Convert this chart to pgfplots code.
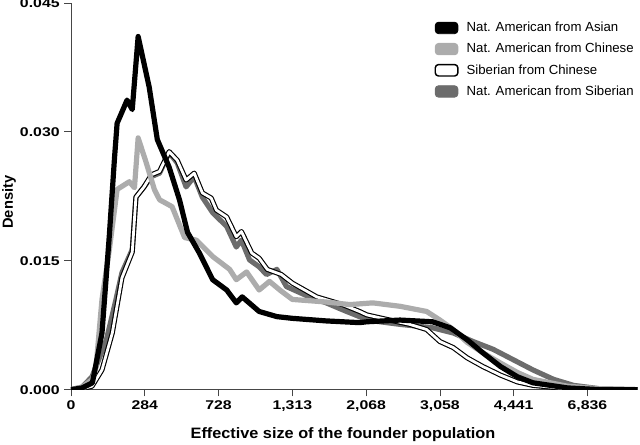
\documentclass[border=0pt]{standalone}
\usepackage{pgfplots}
\pgfplotsset{compat=1.18}
\usepackage{fontspec}
\setmainfont{Liberation Sans}
\newfontfamily\tickfont[FakeStretch=1.25]{Liberation Sans}
\newfontfamily\labfont[FakeStretch=1.08]{Liberation Sans}
\definecolor{lgray}{RGB}{172,172,172}
\definecolor{dgray}{RGB}{108,108,108}
\definecolor{axgray}{RGB}{70,70,70}
\begin{document}
\begin{tikzpicture}
\begin{axis}[
  scale only axis, width=425pt, height=290pt,
  xmin=0, xmax=7.68, ymin=0, ymax=0.045,
  axis x line*=bottom, axis y line*=left,
  axis line style={axgray, line width=0.6pt, -},
  tick style={axgray, line width=0.6pt},
  tick align=outside, major tick length=5pt,
  xtick={0,1,2,3,4,5,6,7},
  xticklabels={0,284,728,{1,313},{2,068},{3,058},{4,441},{6,836}},
  ytick={0,0.015,0.030,0.045},
  yticklabels={0.000,0.015,0.030,0.045},
  ticklabel style={font=\tickfont\bfseries\fontsize{9.5}{11}\selectfont},
  xlabel={Effective size of the founder population},
  ylabel={Density},
  every axis x label/.style={at={(axis description cs:0.48,0)}, yshift=-34pt, anchor=center, font=\labfont\bfseries\fontsize{11.3}{13}\selectfont},
  every axis y label/.style={at={(axis description cs:0,0.485)}, xshift=-46.5pt, rotate=90, anchor=center, font=\bfseries\fontsize{11}{13}\selectfont},
  legend style={at={(rel axis cs:0.641,0.958)}, anchor=north west, draw=none, fill=none,
    font=\fontsize{9.9}{11}\selectfont, inner sep=0pt, row sep=3.2pt,
    /tikz/every odd column/.style={column sep=4pt},
    /tikz/every even column/.style={column sep=0pt}},
  legend cell align=left,
  legend image code/.code={\draw[#1, rounded corners=2.5pt] (0pt,-4.3pt) rectangle (17pt,4.3pt);},
  line join=round,
]
% Nat. American from Siberian
\addplot[dgray, line width=3.9pt, forget plot] coordinates {
(0,0) (0.15,0.0003) (0.285,0.0015) (0.48,0.0058) (0.61,0.0105) (0.69,0.0136) (0.83,0.0163) (0.88,0.0224) (0.99,0.0236) (1.09,0.0248) (1.20,0.0252) (1.33,0.0276) (1.44,0.0264) (1.56,0.0236) (1.67,0.0248) (1.78,0.0224) (1.92,0.0206) (2.11,0.019) (2.24,0.0166) (2.31,0.0174) (2.42,0.0151) (2.55,0.0143) (2.65,0.0134) (2.79,0.014) (2.92,0.012) (3.23,0.0108) (3.46,0.0101) (3.68,0.0093) (3.91,0.0085) (4.01,0.0081) (4.46,0.0076) (4.90,0.0072) (5.18,0.0066) (5.45,0.0056) (5.72,0.0047) (5.99,0.0035) (6.26,0.0023) (6.54,0.0012) (6.81,0.0005) (7.17,0.0001) (7.68,0)
};
% Siberian from Chinese
\pgfplotstableread{
x y
0 0
0.15 0.0001
0.285 0.0004
0.42 0.0023
0.56 0.0066
0.69 0.013
0.83 0.016
0.88 0.0224
0.99 0.0236
1.09 0.025
1.20 0.0254
1.33 0.0277
1.44 0.0267
1.56 0.0244
1.67 0.0252
1.78 0.0229
1.90 0.0223
1.97 0.0209
2.11 0.0201
2.24 0.0178
2.31 0.0184
2.45 0.0159
2.55 0.0153
2.66 0.014
2.85 0.0134
3.00 0.0124
3.33 0.0108
3.68 0.0099
3.91 0.0091
4.01 0.0087
4.32 0.0081
4.59 0.0076
4.82 0.007
5.00 0.0056
5.18 0.0049
5.37 0.0037
5.58 0.0027
5.82 0.0017
6.05 0.0009
6.26 0.0005
6.73 0.0001
7.17 0
7.68 0
}\sibchi
\addplot[black, line width=3.8pt, forget plot] table {\sibchi};
\addplot[white, line width=2.1pt, forget plot] table {\sibchi};
% Nat. American from Chinese
\addplot[lgray, line width=3.9pt, forget plot] coordinates {
(0,0) (0.15,0.0003) (0.29,0.0012) (0.34,0.0027) (0.42,0.0105) (0.52,0.0163) (0.625,0.0233) (0.79,0.0242) (0.86,0.0235) (0.91,0.0293) (1.02,0.0264) (1.13,0.0233) (1.20,0.0221) (1.37,0.0213) (1.54,0.0177) (1.70,0.0174) (1.92,0.0155) (2.15,0.014) (2.24,0.0128) (2.38,0.0137) (2.55,0.0116) (2.69,0.0126) (2.83,0.0116) (3.00,0.0105) (3.46,0.0102) (3.78,0.0099) (4.09,0.0101) (4.46,0.0097) (4.82,0.0091) (5.00,0.0081) (5.18,0.007) (5.37,0.0055) (5.58,0.0043) (5.82,0.0031) (6.05,0.002) (6.26,0.0012) (6.73,0.0004) (7.17,0.0001) (7.68,0)
};
% Nat. American from Asian
\addplot[black, line width=3.9pt, forget plot] coordinates {
(0,0) (0.15,0.0002) (0.29,0.0008) (0.42,0.0066) (0.52,0.018) (0.59,0.027) (0.625,0.031) (0.76,0.0337) (0.83,0.0326) (0.91,0.0411) (1.06,0.0352) (1.17,0.0291) (1.33,0.0259) (1.47,0.0221) (1.58,0.0183) (1.74,0.0159) (1.92,0.0128) (2.11,0.0116) (2.24,0.0101) (2.32,0.0108) (2.55,0.0091) (2.79,0.0085) (3.00,0.0083) (3.46,0.0080) (3.91,0.0078) (4.01,0.0079) (4.46,0.0081) (4.90,0.0079) (5.14,0.0072) (5.37,0.0058) (5.58,0.0043) (5.82,0.0027) (6.05,0.0015) (6.26,0.0008) (6.73,0.0002) (7.17,0) (7.68,0)
};
\addlegendimage{draw=black, fill=black, line width=0.6pt}
\addlegendimage{draw=lgray, fill=lgray, line width=0.6pt}
\addlegendimage{draw=black, fill=white, line width=1.1pt}
\addlegendimage{draw=dgray, fill=dgray, line width=0.6pt}
\legend{Nat. American from Asian, Nat. American from Chinese, Siberian from Chinese, Nat. American from Siberian}
\end{axis}
\pgfresetboundingbox
\path[use as bounding box] (-53.25pt,-41.25pt) rectangle (426.75pt,292.25pt);
\end{tikzpicture}
\end{document}
